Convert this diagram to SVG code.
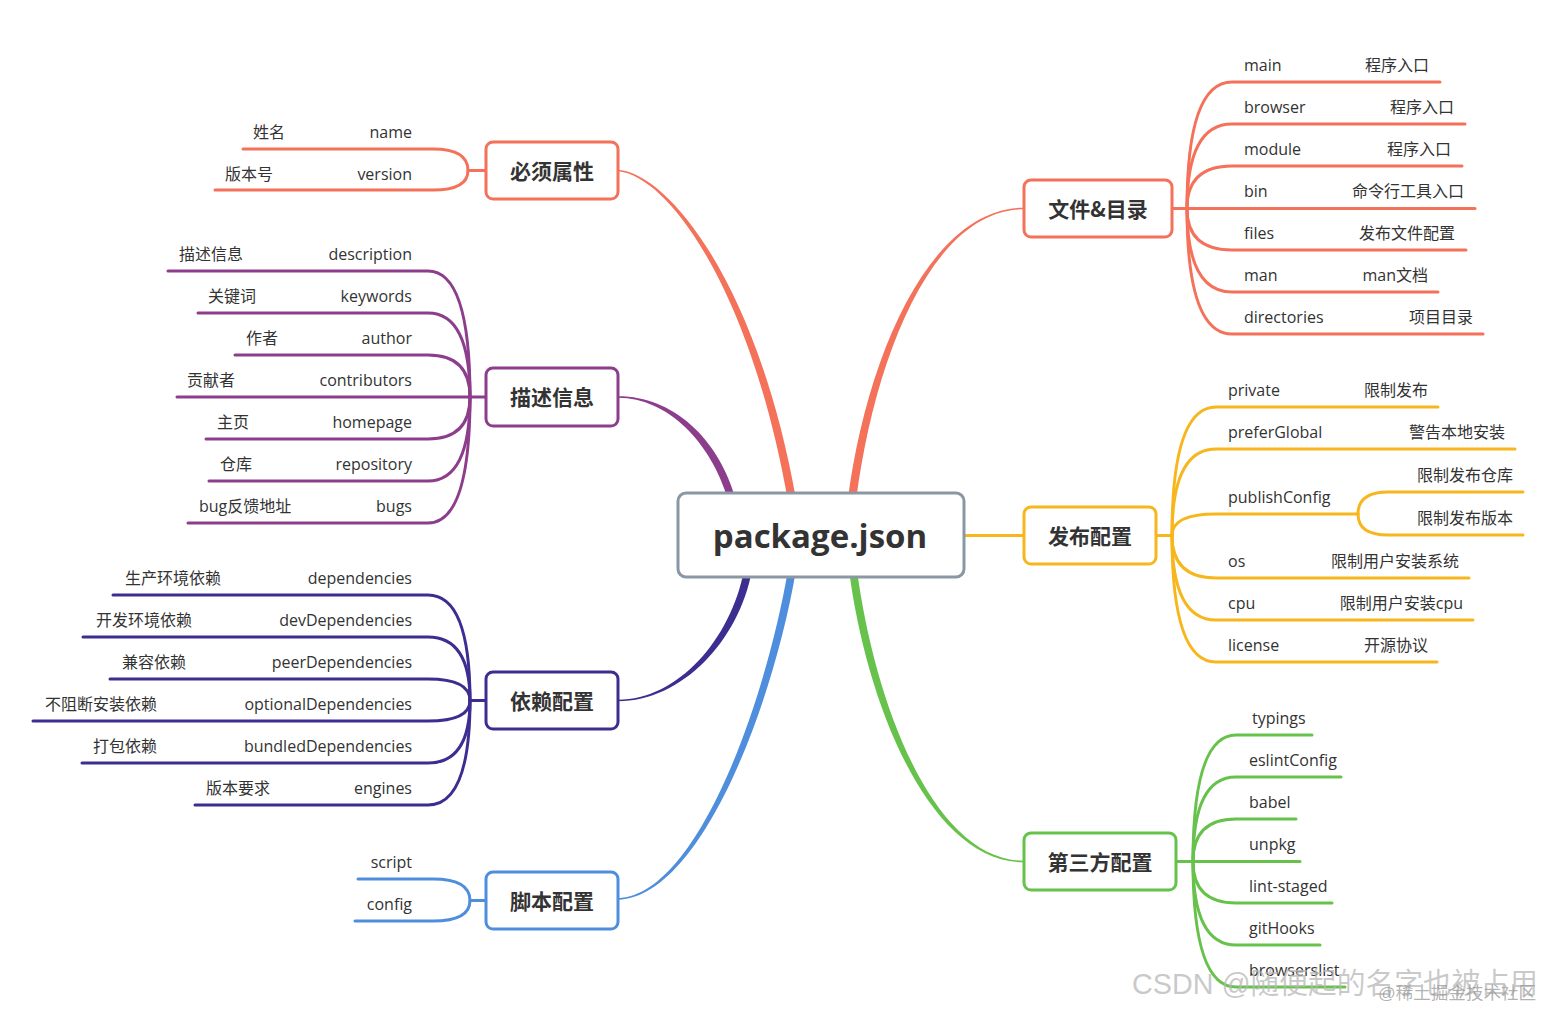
<svg xmlns="http://www.w3.org/2000/svg" width="1545" height="1009" viewBox="0 0 1545 1009">
<style>
  .leaf { font-family: "Open Sans", "Noto Sans CJK SC", sans-serif; font-size: 16px; fill: #333; }
  .end { text-anchor: end; }
  .lbl { font-family: "Noto Sans CJK SC", "Open Sans", sans-serif; font-size: 21px; font-weight: bold; fill: #333; text-anchor: middle; }
  .box { fill: #fff; stroke-width: 3; }
  .ln { fill: none; stroke-width: 3; stroke-linecap: round; }
  .red { stroke: #F4715A; } .redf { fill: #F4715A; }
  .pur { stroke: #8C3D8C; } .purf { fill: #8C3D8C; }
  .dbl { stroke: #3C2E91; } .dblf { fill: #3C2E91; }
  .blu { stroke: #4F8EDC; } .bluf { fill: #4F8EDC; }
  .grn { stroke: #67C24B; } .grnf { fill: #67C24B; }
  .yel { stroke: #F7B61C; } .yelf { fill: #F7B61C; }
</style>
<rect width="1545" height="1009" fill="#fff"/>

<g id="connectors">
  <!-- main tapered branches -->
  <path class="redf" d="M 618,169.7 C 671,174 759,289 796.2,500 L 787.8,500 C 751,291 669,176 618,171.3 Z"/>
  <path class="redf" d="M 1024,207.7 C 929,207.7 866,359 847.8,500 L 856.2,500 C 874,361 931,209.3 1024,209.3 Z"/>
  <path class="purf" d="M 618,396.3 C 672,396 719,438 735.8,500 L 728.2,500 C 711,442 668,398 618,397.7 Z"/>
  <path class="dblf" d="M 618,701.3 C 682,701 739,641 752,570 L 744,570 C 731,639 678,699.7 618,699.7 Z"/>
  <path class="bluf" d="M 618,899.8 C 702,897 774,701 796,570 L 788,570 C 766,699 698,895 618,898.2 Z"/>
  <path class="grnf" d="M 849,570 C 866,701 928,862.3 1024,862.3 L 1024,860.7 C 932,860.7 874,699 857,570 Z"/>
  <path class="ln yel" d="M 964,535.5 H 1024"/>

  <!-- 必须属性 leaves -->
  <path class="ln red" d="M 486,170.5 H 468 Q 468,149 433,149 H 243"/>
  <path class="ln red" d="M 468,170.5 Q 468,190 433,190 H 215"/>

  <!-- 描述信息 leaves -->
  <path class="ln pur" d="M 470,397 Q 470,271 428,271 H 168"/>
  <path class="ln pur" d="M 470,397 Q 470,313 428,313 H 198"/>
  <path class="ln pur" d="M 470,397 Q 470,355 428,355 H 235"/>
  <path class="ln pur" d="M 486,397 H 177"/>
  <path class="ln pur" d="M 470,397 Q 470,439 428,439 H 206"/>
  <path class="ln pur" d="M 470,397 Q 470,481 428,481 H 209"/>
  <path class="ln pur" d="M 470,397 Q 470,523 428,523 H 188"/>

  <!-- 依赖配置 leaves -->
  <path class="ln dbl" d="M 486,700.5 H 470"/>
  <path class="ln dbl" d="M 470,700.5 Q 470,595 428,595 H 113"/>
  <path class="ln dbl" d="M 470,700.5 Q 470,637 428,637 H 83"/>
  <path class="ln dbl" d="M 470,700.5 Q 470,679 428,679 H 110"/>
  <path class="ln dbl" d="M 470,700.5 Q 470,721 428,721 H 33"/>
  <path class="ln dbl" d="M 470,700.5 Q 470,763 428,763 H 82"/>
  <path class="ln dbl" d="M 470,700.5 Q 470,805 428,805 H 195"/>

  <!-- 脚本配置 leaves -->
  <path class="ln blu" d="M 486,900.5 H 470 Q 470,879 433,879 H 358"/>
  <path class="ln blu" d="M 470,900.5 Q 470,921 433,921 H 355"/>

  <!-- 文件&目录 leaves -->
  <path class="ln red" d="M 1187,208.5 Q 1187,82 1232,82 H 1440"/>
  <path class="ln red" d="M 1187,208.5 Q 1187,124 1232,124 H 1465"/>
  <path class="ln red" d="M 1187,208.5 Q 1187,166 1232,166 H 1462"/>
  <path class="ln red" d="M 1172,208.5 H 1475"/>
  <path class="ln red" d="M 1187,208.5 Q 1187,250 1232,250 H 1466"/>
  <path class="ln red" d="M 1187,208.5 Q 1187,292 1232,292 H 1438"/>
  <path class="ln red" d="M 1187,208.5 Q 1187,334 1232,334 H 1483"/>

  <!-- 发布配置 leaves -->
  <path class="ln yel" d="M 1156,535.5 H 1172"/>
  <path class="ln yel" d="M 1172,535.5 Q 1172,407 1216,407 H 1438"/>
  <path class="ln yel" d="M 1172,535.5 Q 1172,449 1216,449 H 1515"/>
  <path class="ln yel" d="M 1172,535.5 Q 1172,514 1216,514 H 1358"/>
  <path class="ln yel" d="M 1358,514 Q 1358,492 1388,492 H 1523"/>
  <path class="ln yel" d="M 1358,514 Q 1358,535 1388,535 H 1523"/>
  <path class="ln yel" d="M 1172,535.5 Q 1172,578 1216,578 H 1469"/>
  <path class="ln yel" d="M 1172,535.5 Q 1172,620 1216,620 H 1473"/>
  <path class="ln yel" d="M 1172,535.5 Q 1172,662 1216,662 H 1437"/>

  <!-- 第三方配置 leaves -->
  <path class="ln grn" d="M 1193,861.5 Q 1193,735 1236,735 H 1312"/>
  <path class="ln grn" d="M 1193,861.5 Q 1193,777 1236,777 H 1341"/>
  <path class="ln grn" d="M 1193,861.5 Q 1193,819 1236,819 H 1296"/>
  <path class="ln grn" d="M 1176,861.5 H 1300"/>
  <path class="ln grn" d="M 1193,861.5 Q 1193,903 1236,903 H 1332"/>
  <path class="ln grn" d="M 1193,861.5 Q 1193,945 1236,945 H 1320"/>
  <path class="ln grn" d="M 1193,861.5 Q 1193,987 1236,987 H 1345"/>
</g>

<g id="root">
  <rect class="box" x="678" y="493" width="286" height="84" rx="8" stroke="#8A97A4"/>
  <text x="820" y="548" font-family="'Open Sans', sans-serif" font-size="33" font-weight="bold" fill="#333" text-anchor="middle">package.json</text>
</g>

<g id="node-required">
  <rect class="box red" x="486" y="142" width="132" height="57" rx="7"/>
  <text class="lbl" x="552" y="178.5">必须属性</text>
</g>
<g id="node-desc">
  <rect class="box pur" x="486" y="368" width="132" height="58" rx="7"/>
  <text class="lbl" x="552" y="405">描述信息</text>
</g>
<g id="node-deps">
  <rect class="box dbl" x="486" y="672" width="132" height="57" rx="7"/>
  <text class="lbl" x="552" y="708.5">依赖配置</text>
</g>
<g id="node-script">
  <rect class="box blu" x="486" y="872" width="132" height="57" rx="7"/>
  <text class="lbl" x="552" y="908.5">脚本配置</text>
</g>
<g id="node-files">
  <rect class="box red" x="1024" y="180" width="148" height="57" rx="7"/>
  <text class="lbl" x="1098" y="216.5">文件&amp;目录</text>
</g>
<g id="node-publish">
  <rect class="box yel" x="1024" y="507" width="132" height="57" rx="7"/>
  <text class="lbl" x="1090" y="543.5">发布配置</text>
</g>
<g id="node-third">
  <rect class="box grn" x="1024" y="833" width="152" height="57" rx="7"/>
  <text class="lbl" x="1100" y="869.5">第三方配置</text>
</g>

<g id="leaves-required">
  <g id="leaf-name"><text class="leaf" x="253" y="138">姓名</text><text class="leaf end" x="412" y="138">name</text></g>
  <g id="leaf-version"><text class="leaf" x="225" y="180">版本号</text><text class="leaf end" x="412" y="180">version</text></g>
</g>

<g id="leaves-desc">
  <g id="leaf-description"><text class="leaf" x="179" y="260">描述信息</text><text class="leaf end" x="412" y="260">description</text></g>
  <g id="leaf-keywords"><text class="leaf" x="208" y="302">关键词</text><text class="leaf end" x="412" y="302">keywords</text></g>
  <g id="leaf-author"><text class="leaf" x="246" y="344">作者</text><text class="leaf end" x="412" y="344">author</text></g>
  <g id="leaf-contributors"><text class="leaf" x="187" y="386">贡献者</text><text class="leaf end" x="412" y="386">contributors</text></g>
  <g id="leaf-homepage"><text class="leaf" x="217" y="428">主页</text><text class="leaf end" x="412" y="428">homepage</text></g>
  <g id="leaf-repository"><text class="leaf" x="220" y="470">仓库</text><text class="leaf end" x="412" y="470">repository</text></g>
  <g id="leaf-bugs"><text class="leaf" x="199" y="512">bug反馈地址</text><text class="leaf end" x="412" y="512">bugs</text></g>
</g>

<g id="leaves-deps">
  <g id="leaf-dependencies"><text class="leaf" x="125" y="584">生产环境依赖</text><text class="leaf end" x="412" y="584">dependencies</text></g>
  <g id="leaf-devDependencies"><text class="leaf" x="96" y="626">开发环境依赖</text><text class="leaf end" x="412" y="626">devDependencies</text></g>
  <g id="leaf-peerDependencies"><text class="leaf" x="122" y="668">兼容依赖</text><text class="leaf end" x="412" y="668">peerDependencies</text></g>
  <g id="leaf-optionalDependencies"><text class="leaf" x="45" y="710">不阻断安装依赖</text><text class="leaf end" x="412" y="710">optionalDependencies</text></g>
  <g id="leaf-bundledDependencies"><text class="leaf" x="93" y="752">打包依赖</text><text class="leaf end" x="412" y="752">bundledDependencies</text></g>
  <g id="leaf-engines"><text class="leaf" x="206" y="794">版本要求</text><text class="leaf end" x="412" y="794">engines</text></g>
</g>

<g id="leaves-script">
  <g id="leaf-script"><text class="leaf end" x="412" y="868">script</text></g>
  <g id="leaf-config"><text class="leaf end" x="412" y="910">config</text></g>
</g>

<g id="leaves-files">
  <g id="leaf-main"><text class="leaf" x="1244" y="71">main</text><text class="leaf end" x="1429" y="71">程序入口</text></g>
  <g id="leaf-browser"><text class="leaf" x="1244" y="113">browser</text><text class="leaf end" x="1454" y="113">程序入口</text></g>
  <g id="leaf-module"><text class="leaf" x="1244" y="155">module</text><text class="leaf end" x="1451" y="155">程序入口</text></g>
  <g id="leaf-bin"><text class="leaf" x="1244" y="197">bin</text><text class="leaf end" x="1464" y="197">命令行工具入口</text></g>
  <g id="leaf-files"><text class="leaf" x="1244" y="239">files</text><text class="leaf end" x="1455" y="239">发布文件配置</text></g>
  <g id="leaf-man"><text class="leaf" x="1244" y="281">man</text><text class="leaf end" x="1428" y="281">man文档</text></g>
  <g id="leaf-directories"><text class="leaf" x="1244" y="323">directories</text><text class="leaf end" x="1473" y="323">项目目录</text></g>
</g>

<g id="leaves-publish">
  <g id="leaf-private"><text class="leaf" x="1228" y="396">private</text><text class="leaf end" x="1428" y="396">限制发布</text></g>
  <g id="leaf-preferGlobal"><text class="leaf" x="1228" y="438">preferGlobal</text><text class="leaf end" x="1505" y="438">警告本地安装</text></g>
  <g id="leaf-publishConfig"><text class="leaf" x="1228" y="503">publishConfig</text></g>
  <g id="leaf-registry"><text class="leaf end" x="1513" y="481">限制发布仓库</text></g>
  <g id="leaf-tag"><text class="leaf end" x="1513" y="524">限制发布版本</text></g>
  <g id="leaf-os"><text class="leaf" x="1228" y="567">os</text><text class="leaf end" x="1459" y="567">限制用户安装系统</text></g>
  <g id="leaf-cpu"><text class="leaf" x="1228" y="609">cpu</text><text class="leaf end" x="1463" y="609">限制用户安装cpu</text></g>
  <g id="leaf-license"><text class="leaf" x="1228" y="651">license</text><text class="leaf end" x="1428" y="651">开源协议</text></g>
</g>

<g id="leaves-third">
  <g id="leaf-typings"><text class="leaf" x="1252" y="724">typings</text></g>
  <g id="leaf-eslintConfig"><text class="leaf" x="1249" y="766">eslintConfig</text></g>
  <g id="leaf-babel"><text class="leaf" x="1249" y="808">babel</text></g>
  <g id="leaf-unpkg"><text class="leaf" x="1249" y="850">unpkg</text></g>
  <g id="leaf-lint-staged"><text class="leaf" x="1249" y="892">lint-staged</text></g>
  <g id="leaf-gitHooks"><text class="leaf" x="1249" y="934">gitHooks</text></g>
  <g id="leaf-browserslist"><text class="leaf" x="1249" y="976">browserslist</text></g>
</g>

<g id="watermark" font-family="'Liberation Sans', 'Noto Sans CJK SC', sans-serif" fill="#b8b8b8" fill-opacity="0.75">
  <text x="1132" y="994" font-size="29" textLength="406" lengthAdjust="spacingAndGlyphs">CSDN @随便起的名字也被占用</text>
  <text x="1378" y="999" font-size="17" fill="#999" textLength="158" lengthAdjust="spacingAndGlyphs">@稀土掘金技术社区</text>
</g>
</svg>
